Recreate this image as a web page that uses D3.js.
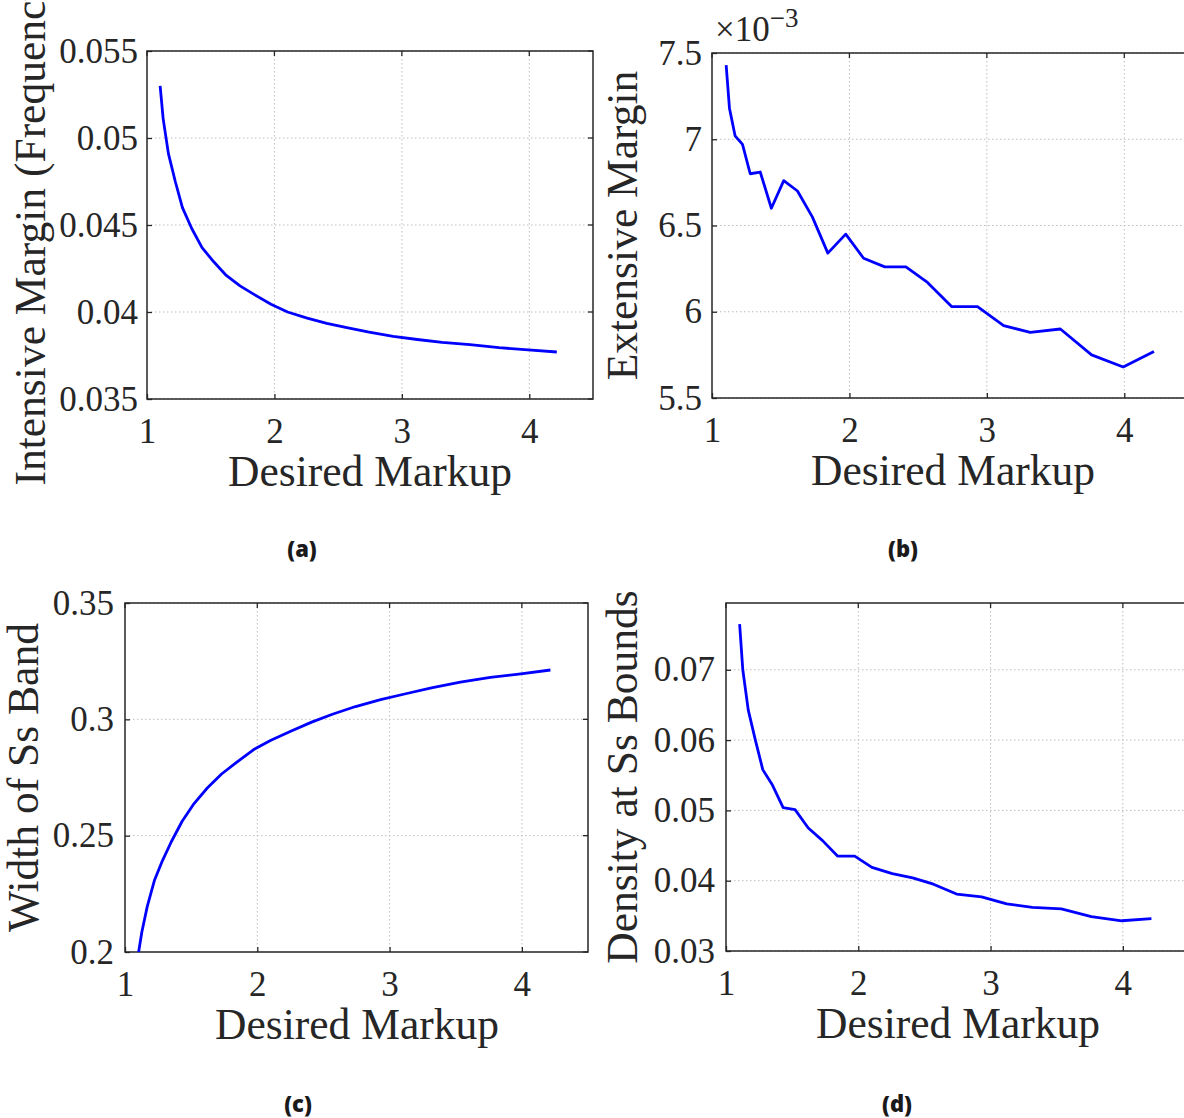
<!DOCTYPE html>
<html>
<head>
<meta charset="utf-8">
<script src="https://cdn.jsdelivr.net/npm/d3@7"></script>
<style>
	body { margin: 0; background: #ffffff; }
	svg { display: block; }
	.tick-label { font-family: 'Liberation Serif', 'DejaVu Serif', serif; font-size: 35px; fill: #262626; }
	.axis-label { font-family: 'Liberation Serif', 'DejaVu Serif', serif; font-size: 43.5px; fill: #262626; }
	.caption { font-family: 'Open Sans', 'DejaVu Sans', sans-serif; font-size: 22px; font-weight: 800; fill: #1a1a1a; }
</style>
</head>
<body>
<svg id="chart" width="1184" height="1118"></svg>
<script>
// desired markup grid (shared by all four panels)
var markup = [1.103, 1.127, 1.168, 1.222, 1.278, 1.351, 1.432, 1.522, 1.622, 1.73, 1.843, 1.973,
	2.103, 2.257, 2.411, 2.568, 2.743, 2.932, 3.122, 3.316, 3.535, 3.762, 3.992, 4.216];

// (a) intensive margin (frequency)
var intensiveMargin = [0.0530, 0.0511, 0.0491, 0.0475, 0.0460, 0.0448, 0.0437, 0.0429, 0.0421, 0.0415, 0.0410, 0.04045,
	0.0400, 0.03965, 0.03935, 0.0391, 0.03885, 0.0386, 0.03842, 0.03825, 0.03813, 0.03795, 0.03782, 0.0377];

// (b) extensive margin
var extensiveMargin = [0.00743, 0.00718, 0.00702, 0.00697, 0.00680, 0.00681, 0.00660, 0.00676, 0.00670, 0.00655, 0.00634, 0.00645,
	0.00631, 0.00626, 0.00626, 0.00617, 0.00603, 0.00603, 0.00592, 0.00588, 0.00590, 0.00575, 0.00568, 0.00577];

// (c) width of Ss band
var bandWidth = [0.2000, 0.2085, 0.2195, 0.2307, 0.2386, 0.2475, 0.2562, 0.2638, 0.2705, 0.2765, 0.2815, 0.2870,
	0.2910, 0.2950, 0.2988, 0.3022, 0.3055, 0.3085, 0.3110, 0.3135, 0.3160, 0.3180, 0.3195, 0.3212];

// (d) density at Ss bounds
var boundDensity = [0.0765, 0.0700, 0.0643, 0.0600, 0.0558, 0.0536, 0.0504, 0.0501, 0.0475, 0.0457, 0.0435, 0.0435,
	0.0419, 0.0410, 0.0404, 0.0395, 0.0381, 0.0377, 0.0367, 0.0362, 0.0360, 0.0349, 0.0343, 0.0346];

// tick values / labels
var xTicks = [1, 2, 3, 4];
var xTickLabels = ['1', '2', '3', '4'];
var yTicksA = [0.035, 0.04, 0.045, 0.05, 0.055];
var yTickLabelsA = ['0.035', '0.04', '0.045', '0.05', '0.055'];
var yTicksB = [0.0055, 0.006, 0.0065, 0.007, 0.0075];
var yTickLabelsB = ['5.5', '6', '6.5', '7', '7.5'];
var yTicksC = [0.2, 0.25, 0.3, 0.35];
var yTickLabelsC = ['0.2', '0.25', '0.3', '0.35'];
var yTicksD = [0.03, 0.04, 0.05, 0.06, 0.07];
var yTickLabelsD = ['0.03', '0.04', '0.05', '0.06', '0.07'];

var svg = d3.select('#chart');
var AXIS_COLOR = '#262626';
var TICK_LEN = 5;

function drawPanel(p, idx) {
	var x = d3.scaleLinear().domain([1, 4.5]).range([p.left, p.right]);
	var y = d3.scaleLinear().domain(p.yDomain).range([p.bottom, p.top]);
	var g = svg.append('g');

	// clip for the data line
	g.append('clipPath').attr('id', 'clip_' + idx)
		.append('rect')
		.attr('x', p.left).attr('y', p.top)
		.attr('width', p.right - p.left).attr('height', p.bottom - p.top);

	// dotted grid
	g.append('g').selectAll('line').data(xTicks.slice(1)).enter().append('line')
		.attr('x1', d => x(d)).attr('x2', d => x(d))
		.attr('y1', p.top).attr('y2', p.bottom)
		.attr('stroke', '#bdbdbd').attr('stroke-width', 1).attr('stroke-dasharray', '1.5,2.5');
	g.append('g').selectAll('line').data(p.yTicks).enter().append('line')
		.attr('x1', p.left).attr('x2', p.right)
		.attr('y1', d => y(d)).attr('y2', d => y(d))
		.attr('stroke', '#bdbdbd').attr('stroke-width', 1).attr('stroke-dasharray', '1.5,2.5');

	// bottom axis, ticks inward
	var xAxis = d3.axisBottom(x).tickValues(xTicks).tickSize(-TICK_LEN).tickPadding(19)
		.tickFormat((d, i) => xTickLabels[i]);
	var gx = g.append('g').attr('transform', 'translate(0,' + p.bottom + ')').call(xAxis);
	gx.select('.domain').remove();
	gx.selectAll('line').attr('stroke', AXIS_COLOR).attr('stroke-width', 1.3);
	gx.selectAll('text').attr('class', 'tick-label').attr('fill', AXIS_COLOR).attr('font-family', null).attr('font-size', null);

	// left axis, ticks inward
	var yAxis = d3.axisLeft(y).tickValues(p.yTicks).tickSize(-TICK_LEN).tickPadding(p.yPad)
		.tickFormat((d, i) => p.yTickLabels[i]);
	var gy = g.append('g').attr('transform', 'translate(' + p.left + ',0)').call(yAxis);
	gy.select('.domain').remove();
	gy.selectAll('line').attr('stroke', AXIS_COLOR).attr('stroke-width', 1.3);
	gy.selectAll('text').attr('class', 'tick-label').attr('fill', AXIS_COLOR).attr('font-family', null).attr('font-size', null);

	// top / right mirrored ticks
	g.append('g').selectAll('line').data(xTicks).enter().append('line')
		.attr('x1', d => x(d)).attr('x2', d => x(d))
		.attr('y1', p.top).attr('y2', p.top + TICK_LEN)
		.attr('stroke', AXIS_COLOR).attr('stroke-width', 1.3);
	g.append('g').selectAll('line').data(p.yTicks).enter().append('line')
		.attr('x1', p.right).attr('x2', p.right - TICK_LEN)
		.attr('y1', d => y(d)).attr('y2', d => y(d))
		.attr('stroke', AXIS_COLOR).attr('stroke-width', 1.3);

	// box
	g.append('rect')
		.attr('x', p.left).attr('y', p.top)
		.attr('width', p.right - p.left).attr('height', p.bottom - p.top)
		.attr('fill', 'none').attr('stroke', AXIS_COLOR).attr('stroke-width', 1.5);

	// data line
	var line = d3.line().x((d, i) => x(markup[i])).y(d => y(d));
	g.append('path').datum(p.values)
		.attr('clip-path', 'url(#clip_' + idx + ')')
		.attr('d', line)
		.attr('fill', 'none')
		.attr('stroke', '#0000ff')
		.attr('stroke-width', 2.8)
		.attr('stroke-linejoin', 'round');

	// x label
	g.append('text').attr('class', 'axis-label')
		.attr('x', p.xLabelX).attr('y', p.bottom + 87)
		.attr('text-anchor', 'middle')
		.text('Desired Markup');

	// y label
	g.append('text').attr('class', 'axis-label')
		.attr('transform', 'translate(' + p.yLabelX + ',' + (p.top + p.bottom) / 2 + ') rotate(-90)')
		.attr('text-anchor', 'middle')
		.text(p.yLabel);

	// caption
	g.append('text').attr('class', 'caption')
		.attr('x', p.captionX).attr('y', p.captionY)
		.attr('text-anchor', 'middle')
		.text(p.caption);
}

var panels = [
	{ left: 147, right: 593, top: 51, bottom: 399, yDomain: [0.035, 0.055], yTicks: yTicksA, yTickLabels: yTickLabelsA,
	  values: intensiveMargin, yLabel: 'Intensive Margin (Frequency)', yLabelX: 45, yPad: 9, xLabelX: 370,
	  caption: '(a)', captionX: 302, captionY: 557 },
	{ left: 712, right: 1193, top: 53, bottom: 398, yDomain: [0.0055, 0.0075], yTicks: yTicksB, yTickLabels: yTickLabelsB,
	  values: extensiveMargin, yLabel: 'Extensive Margin', yLabelX: 637, yPad: 10, xLabelX: 953,
	  caption: '(b)', captionX: 903, captionY: 557 },
	{ left: 125, right: 588, top: 603, bottom: 952, yDomain: [0.2, 0.35], yTicks: yTicksC, yTickLabels: yTickLabelsC,
	  values: bandWidth, yLabel: 'Width of Ss Band', yLabelX: 38, yPad: 11, xLabelX: 357,
	  caption: '(c)', captionX: 298, captionY: 1112 },
	{ left: 726, right: 1189, top: 603, bottom: 951, yDomain: [0.03, 0.0795], yTicks: yTicksD, yTickLabels: yTickLabelsD,
	  values: boundDensity, yLabel: 'Density at Ss Bounds', yLabelX: 637, yPad: 11, xLabelX: 958,
	  caption: '(d)', captionX: 897, captionY: 1112 }
];

panels.forEach((p, i) => drawPanel(p, i));

// exponent label for panel (b)
var expLabel = svg.append('text').attr('class', 'tick-label').attr('x', 715).attr('y', 41);
expLabel.append('tspan').text('\u00d710');
expLabel.append('tspan').attr('dy', -14).attr('font-size', 27).text('\u22123');
</script>
</body>
</html>
